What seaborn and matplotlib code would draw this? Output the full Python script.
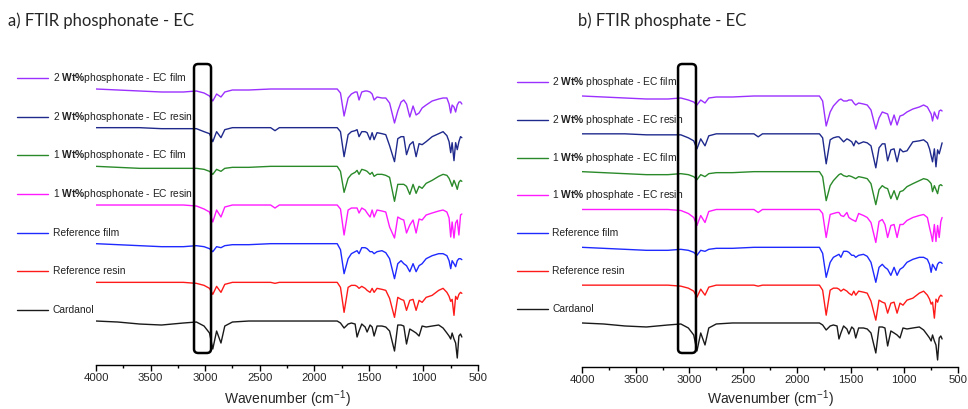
import numpy as np
import pandas as pd
import matplotlib.pyplot as plt
from matplotlib.patches import FancyBboxPatch
from matplotlib.ticker import MultipleLocator
import seaborn as sns

# wavenumber grid (cm-1) shared by all spectra
wavenumber = [4000, 3800, 3600, 3400, 3200, 3080, 3010, 2960, 2930, 2895,
              2855, 2820, 2750, 2600, 2400, 2360, 2320, 2100, 1900, 1790,
              1760, 1727, 1690, 1660, 1626, 1608, 1590, 1565, 1534, 1516,
              1489, 1470, 1452, 1425, 1380, 1345, 1310, 1265, 1235, 1205,
              1180, 1155, 1125, 1095, 1067, 1040, 1012, 975, 920, 860,
              820, 785, 765, 750, 737, 720, 705, 690, 675, 660, 648]

# relative transmittance
pn2_film = [100, 99, 98, 97, 97, 98, 96, 93, 88, 95,
            92, 97, 99, 99, 100, 100, 100, 100, 100, 100,
            96, 73, 91, 95, 97, 97, 89, 97, 98, 98,
            97, 95, 89, 92, 91, 91, 86, 66, 78, 87,
            89, 85, 72, 83, 74, 76, 81, 84, 88, 90,
            91, 91, 85, 76, 84, 82, 77, 84, 87, 87, 85]
pn2_resin = [100, 100, 100, 99, 99, 99, 96, 94, 86, 96,
             90, 98, 100, 100, 100, 97, 100, 100, 100, 100,
             96, 71, 93, 96, 97, 98, 91, 96, 96, 95,
             88, 95, 88, 95, 94, 93, 82, 66, 89, 91,
             91, 73, 83, 86, 71, 84, 83, 86, 91, 94,
             96, 92, 86, 75, 85, 67, 85, 78, 86, 91, 90]
pn1_film = [100, 99, 98, 98, 98, 98, 97, 95, 92, 97,
            95, 98, 99, 99, 100, 100, 100, 100, 100, 100,
            95, 74, 88, 92, 94, 96, 92, 97, 96, 95,
            92, 94, 90, 92, 92, 91, 89, 65, 82, 82,
            82, 80, 72, 82, 73, 80, 78, 83, 86, 90,
            92, 91, 88, 84, 80, 86, 82, 77, 84, 86, 85]
pn1_resin = [100, 100, 100, 100, 100, 99, 96, 93, 83, 95,
             88, 98, 100, 100, 100, 97, 100, 100, 100, 100,
             96, 70, 95, 97, 97, 97, 92, 97, 95, 92,
             88, 95, 88, 95, 94, 93, 78, 67, 88, 86,
             85, 72, 80, 85, 72, 86, 85, 90, 92, 94,
             95, 93, 87, 68, 83, 67, 82, 85, 70, 90, 91]
pa2_film = [100, 99, 98, 97, 97, 98, 96, 94, 91, 96,
            93, 98, 99, 99, 100, 100, 100, 100, 100, 100,
            95, 70, 84, 90, 94, 96, 97, 95, 95, 96,
            96, 93, 91, 93, 92, 91, 86, 67, 78, 84,
            83, 82, 71, 81, 71, 80, 81, 84, 87, 89,
            91, 89, 85, 82, 75, 84, 80, 77, 85, 86, 85]
pa2_resin = [100, 100, 100, 99, 99, 99, 96, 93, 85, 95,
             88, 98, 100, 100, 100, 97, 100, 100, 100, 100,
             96, 70, 94, 96, 97, 97, 95, 92, 95, 94,
             92, 88, 93, 90, 92, 91, 88, 66, 86, 90,
             90, 73, 84, 85, 72, 85, 82, 83, 92, 93,
             94, 91, 85, 78, 72, 85, 67, 84, 80, 86, 91]
pa1_film = [100, 99, 98, 97, 97, 98, 97, 95, 92, 97,
            95, 98, 99, 99, 100, 100, 100, 100, 100, 100,
            95, 71, 86, 91, 95, 97, 98, 96, 95, 96,
            95, 94, 93, 95, 94, 93, 88, 67, 82, 86,
            84, 83, 73, 81, 72, 80, 81, 85, 88, 91,
            93, 92, 90, 88, 80, 86, 82, 78, 86, 87, 86]
pa1_resin = [100, 100, 100, 100, 100, 99, 96, 92, 84, 94,
             87, 98, 100, 100, 100, 97, 100, 100, 100, 100,
             96, 72, 95, 96, 97, 97, 94, 93, 97, 92,
             90, 89, 88, 96, 94, 92, 87, 67, 88, 90,
             85, 72, 84, 85, 72, 85, 85, 89, 92, 94,
             95, 92, 82, 75, 68, 85, 68, 84, 72, 88, 92]
ref_film = [100, 99, 98, 97, 97, 98, 97, 95, 92, 97,
            96, 98, 99, 99, 100, 100, 100, 100, 100, 100,
            94, 70, 85, 90, 92, 93, 90, 96, 96, 95,
            92, 92, 90, 92, 93, 91, 85, 65, 80, 83,
            80, 78, 72, 80, 72, 78, 80, 85, 88, 90,
            90, 88, 83, 75, 83, 80, 77, 83, 85, 85, 84]
ref_resin = [100, 100, 100, 100, 100, 99, 97, 94, 88, 96,
             90, 98, 100, 100, 100, 99, 100, 100, 100, 100,
             95, 70, 95, 97, 97, 96, 94, 96, 94, 92,
             90, 94, 90, 94, 93, 92, 84, 65, 85, 83,
             82, 72, 82, 83, 72, 82, 80, 85, 87, 92,
             94, 90, 86, 81, 83, 67, 86, 83, 88, 90, 89]
cardanol = [100, 99, 97, 96, 98, 99, 95, 88, 72, 90,
            78, 95, 99, 100, 100, 100, 100, 100, 100, 100,
            98, 93, 97, 98, 97, 84, 90, 97, 94, 89,
            96, 94, 85, 95, 95, 94, 90, 70, 96, 96,
            95, 77, 92, 90, 88, 85, 95, 94, 95, 96,
            93, 88, 85, 82, 88, 82, 78, 63, 85, 87, 84]

labels_a = ["2 Wt%phosphonate - EC film", "2 Wt%phosphonate - EC resin",
            "1 Wt%phosphonate - EC film", "1 Wt%phosphonate - EC resin",
            "Reference film", "Reference resin", "Cardanol"]
labels_b = ["2 Wt% phosphate - EC film", "2 Wt% phosphate - EC resin",
            "1 Wt% phosphate - EC film", "1 Wt% phosphate - EC resin",
            "Reference film", "Reference resin", "Cardanol"]
spectra_a = [pn2_film, pn2_resin, pn1_film, pn1_resin, ref_film, ref_resin, cardanol]
spectra_b = [pa2_film, pa2_resin, pa1_film, pa1_resin, ref_film, ref_resin, cardanol]
colors = ["#9b30ff", "#1f2a8c", "#2a8a2a", "#ff1aff", "#1f2aff", "#ff1a1a", "#1a1a1a"]

sns.set_theme(style="white")
plt.rcParams["font.family"] = ["Liberation Sans", "DejaVu Sans"]
plt.rcParams["mathtext.fontset"] = "custom"
plt.rcParams["mathtext.rm"] = "Liberation Sans"
plt.rcParams["mathtext.bf"] = "Liberation Sans:bold"
plt.rcParams["mathtext.it"] = "Liberation Sans:italic"

fig = plt.figure(figsize=(9.68, 4.09), dpi=100)
ax_a = fig.add_axes([96 / 968, 44 / 409, 382 / 968, 305 / 409])
ax_b = fig.add_axes([582 / 968, 42 / 409, 376 / 968, 307 / 409])


def draw_panel(ax, spectra, labels, top, step, line_x, text_x, label_dy, box, ymax, xlab_y):
    frames = []
    for i, (name, vals) in enumerate(zip(labels, spectra)):
        frames.append(pd.DataFrame({"wn": wavenumber,
                                    "y": np.array(vals) + top - 100 - i * step,
                                    "sample": name}))
    df = pd.concat(frames, ignore_index=True)
    sns.lineplot(data=df, x="wn", y="y", hue="sample", hue_order=labels,
                 palette=dict(zip(labels, colors)), sort=False, estimator=None,
                 legend=False, linewidth=1.0, ax=ax)

    # legend-like labels on the left
    for i, (name, c) in enumerate(zip(labels, colors)):
        yl = top - i * step + label_dy
        ax.plot(line_x, [yl, yl], color=c, lw=1.0, clip_on=False)
        txt = name.replace("Wt%", r"$\mathbf{Wt\%}$")
        ax.text(text_x, yl, txt, fontsize=7.4, color="#222222", va="center",
                ha="left", clip_on=False)

    # rounded box around the C-H stretch region
    x0, x1, y0, y1 = box
    ax.add_patch(FancyBboxPatch((x0, y0), x1 - x0, y1 - y0,
                                boxstyle="round,pad=0,rounding_size=40",
                                mutation_aspect=0.1, fc="none", ec="black",
                                lw=1.8, clip_on=False, zorder=5))

    ax.set_xlim(4000, 500)
    ax.set_ylim(0, ymax)
    ax.set_yticks([])
    ax.set_ylabel("")
    ax.xaxis.set_major_locator(MultipleLocator(500))
    ax.xaxis.set_minor_locator(MultipleLocator(250))
    ax.tick_params(axis="x", which="major", bottom=True, direction="out",
                   length=4, width=1, color="black", labelsize=8.2, pad=1.5)
    ax.tick_params(axis="x", which="minor", bottom=True, direction="out",
                   length=2.5, width=1, color="black")
    sns.despine(ax=ax, left=True)
    ax.spines["bottom"].set_color("black")
    ax.spines["bottom"].set_linewidth(1.0)
    ax.set_xlabel("Wavenumber (cm$^{-1}$)", fontsize=10)
    ax.xaxis.set_label_coords(0.5, xlab_y)


draw_panel(ax_a, spectra_a, labels_a, top=276, step=38.67,
           line_x=[4725, 4440], text_x=4394, label_dy=11,
           box=(2946, 3102, 12, 301), ymax=305, xlab_y=-0.0754)
draw_panel(ax_b, spectra_b, labels_b, top=271, step=37.83,
           line_x=[4605, 4317], text_x=4279, label_dy=14,
           box=(2939, 3106, 14, 303), ymax=307, xlab_y=-0.0684)

title_font = ["Lato", "DejaVu Sans"]
fig.text(8 / 968, 1 - 21 / 409, "a) FTIR phosphonate - EC", fontsize=12,
         family=title_font, va="center", ha="left")
fig.text(578 / 968, 1 - 21 / 409, "b) FTIR phosphate - EC", fontsize=12,
         family=title_font, va="center", ha="left")

fig.savefig("out.png", dpi=100, facecolor="white")
